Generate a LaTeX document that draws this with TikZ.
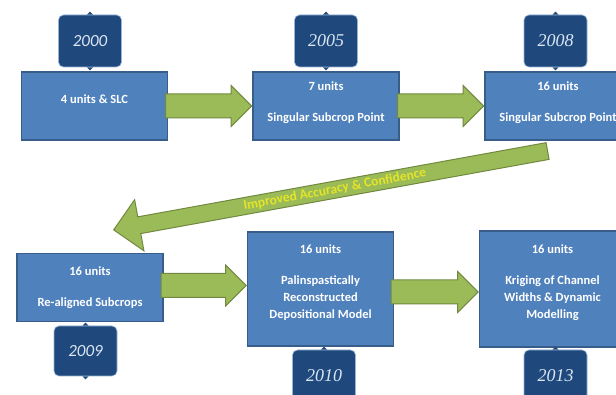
\documentclass[tikz,border=0pt]{standalone}
\usepackage{fontspec}
\setmainfont{Carlito}
\newfontfamily\yearserif{Liberation Serif}
\usetikzlibrary{shapes.arrows, positioning}
\definecolor{stageblue}{HTML}{4F81BD}
\definecolor{stageedge}{HTML}{385D8A}
\definecolor{tagnavy}{HTML}{1F497D}
\definecolor{tagedge}{HTML}{95B3D7}
\definecolor{taglabel}{HTML}{DCE6F2}
\definecolor{flowgreen}{HTML}{9BBB59}
\definecolor{flowedge}{HTML}{71893F}
\definecolor{notegold}{RGB}{228,228,40}
\tikzset{
    stagebox/.style={draw=stageedge, fill=stageblue, line width=1.2pt, align=center, text=white,
        minimum width=146pt, minimum height=68pt, inner sep=0pt,
        font=\bfseries\fontsize{12.5}{17}\selectfont},
    yeartag/.style={draw=tagedge, fill=tagnavy, line width=0.6pt, rounded corners=5pt,
        minimum width=63pt, minimum height=52pt, text=taglabel,
        font=\itshape\fontsize{17}{20}\selectfont},
    serifyear/.style={font=\yearserif\itshape\fontsize{18}{20}\selectfont},
    flowarrow/.style={single arrow, draw=flowedge, fill=flowgreen, line width=1pt, anchor=tip,
        minimum height=86pt, inner xsep=0pt, inner ysep=11.5pt, single arrow head extend=8.5pt}
}

\begin{document}
\begin{tikzpicture}[x=1pt, y=-1pt]
  \useasboundingbox (0,0) rectangle (616,395);
  \clip (0,0) rectangle (616,395);
  \fill[white] (0,0) rectangle (616,395);
  % stages
  \node[stagebox, text depth=14pt] (s2000) at (94.5,106) {4 units \& SLC};
  \node[stagebox, text depth=8pt] (s2005) at (326,106) {7 units\\[14pt] Singular Subcrop Point};
  \node[stagebox, text depth=8pt] (s2008) at (558,106) {16 units\\[14pt] Singular Subcrop Point};
  \node[stagebox] (s2009) at (90,287.5) {16 units\\[14pt] Re-aligned Subcrops};
  \node[stagebox, minimum height=114pt, text depth=14pt] (s2010) at (320.5,289)
    {16 units\\[14pt] Palinspastically\\ Reconstructed\\ Depositional Model};
  \node[stagebox, minimum height=116pt, text depth=14pt] (s2013) at (552.5,289)
    {16 units\\[14pt] Kriging of Channel\\ Widths \& Dynamic\\ Modelling};
  % year tags
  \node[yeartag] (y2000) at (90,41) {2000};
  \node[yeartag, serifyear] (y2005) at (326,41) {2005};
  \node[yeartag, serifyear] (y2008) at (555.5,41) {2008};
  \node[yeartag, minimum height=50pt] (y2009) at (85.5,351) {2009};
  \node[yeartag, serifyear] (y2010) at (324,376) {2010};
  \node[yeartag, serifyear] (y2013) at (555.5,376) {2013};
  \foreach \tg in {y2000,y2005,y2008,y2009,y2010,y2013}{
    \fill[tagnavy] ([xshift=-3pt]\tg.north) -- ([yshift=3pt]\tg.north) -- ([xshift=3pt]\tg.north) -- cycle;
    \fill[tagnavy] ([xshift=-3pt]\tg.south) -- ([yshift=-3pt]\tg.south) -- ([xshift=3pt]\tg.south) -- cycle;
  }
  % flow arrows, tip on the next stage
  \node[flowarrow] (a1) at (s2005.west) {};
  \node[flowarrow] (a2) at (s2008.west) {};
  \node[flowarrow, minimum height=85pt] (a3) at ([yshift=3.5pt]s2010.west) {};
  \node[flowarrow, minimum height=87pt] (a4) at ([yshift=-3pt]s2013.west) {};
  % feedback arrow back to the second row
  \coordinate (back) at (113,230);
  \node[single arrow, draw=flowedge, fill=flowgreen, line width=1pt, inner sep=0pt, anchor=tip,
    minimum height=441pt, minimum width=52pt, single arrow head extend=13pt,
    shape border rotate=180, rotate=10.3, text=notegold,
    font=\bfseries\fontsize{13.5}{15}\selectfont] (feedback) at (back)
    {Improved Accuracy \& Confidence};
\end{tikzpicture}
\end{document}
